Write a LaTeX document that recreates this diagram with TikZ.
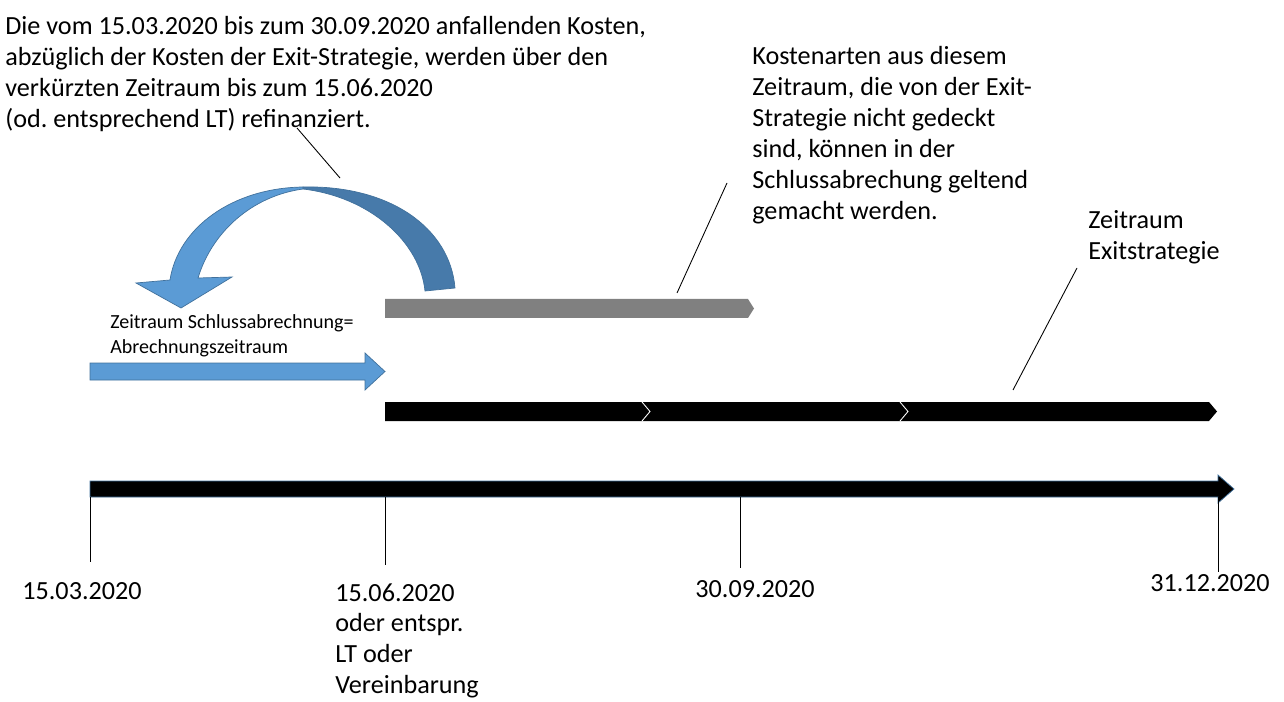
\documentclass[tikz,border=0pt]{standalone}
\usepackage{fontspec}
\setmainfont{Carlito}
\usetikzlibrary{positioning}
\definecolor{pfeilblau}{RGB}{91,155,213}
\definecolor{pfeilrand}{RGB}{65,113,156}
\definecolor{bogendunkel}{RGB}{71,122,170}
\definecolor{balkengrau}{RGB}{128,128,128}

\begin{document}
\begin{tikzpicture}[
  x=0.02cm, y=-0.02cm,
  txt/.style    = {inner sep=0pt, align=left, anchor=north west,
                   font=\fontsize{14.9}{17.6}\selectfont},
  klein/.style  = {inner sep=0pt, align=left, anchor=north west,
                   font=\fontsize{11.4}{14.2}\selectfont},
  hinweis/.style = {black, line width=0.5pt},
  strich/.style = {black, line width=0.5pt}
]
\useasboundingbox (0,0) rectangle (1284,702);

\node[txt] (refin) at (5,16) {Die vom 15.03.2020 bis zum 30.09.2020 anfallenden Kosten,\\
  abzüglich der Kosten der Exit-Strategie, werden über den\\
  verkürzten Zeitraum bis zum 15.06.2020\\
  (od.\ entsprechend LT) refinanziert.};
\node[txt] (kosten) at (752,46) {Kostenarten aus diesem\\ Zeitraum, die von der Exit-\\
  Strategie nicht gedeckt\\ sind, können in der\\ Schlussabrechung geltend\\ gemacht werden.};
\node[txt] (exit) at (1088,210) {Zeitraum\\ Exitstrategie};
\node[klein] (schluss) at (110,314) {Zeitraum Schlussabrechnung=\\ Abrechnungszeitraum};

\node[txt] (d1) at (22,582) {15.03.2020};
\node[txt] (d2) at (335,583) {15.06.2020\\ oder entspr.\\ LT oder\\ Vereinbarung};
\node[txt] (d3) at (695,580) {30.09.2020};
\node[txt] (d4) at (1150,574) {31.12.2020};

% Balken
\draw[fill=black, draw=pfeilrand, line width=0.4pt]
  (90,481) -- (1218,481) -- (1218,475) -- (1234,489) -- (1218,503) -- (1218,497) -- (90,497) -- cycle;
\fill[black] (385,402) -- (1209,402) -- (1217,411.5) -- (1209,421) -- (385,421) -- cycle;
\draw[white, line width=0.5pt] (642,402) -- (650,411.5) -- (642,421);
\draw[white, line width=0.5pt] (900,402) -- (908,411.5) -- (900,421);
\fill[balkengrau] (385,299) -- (748,299) -- (754,308.5) -- (748,318) -- (385,318) -- cycle;
\draw[fill=pfeilblau, draw=pfeilrand, line width=0.4pt]
  (90,363) -- (365,363) -- (365,353) -- (385,371.5) -- (365,390) -- (365,380) -- (90,380) -- cycle;

% Bogenpfeil
\draw[fill=bogendunkel, draw=pfeilrand, line width=0.4pt]
  (303,187) .. controls (390,185) and (450,228) .. (455,288) -- (425,291)
  .. controls (420,242) and (370,197) .. (303,189) -- cycle;
\draw[fill=pfeilblau, draw=pfeilrand, line width=0.4pt]
  (303,187) .. controls (232,188) and (178,228) .. (170,280) -- (136,283) -- (181,308) -- (232,277)
  -- (198,278) .. controls (212,232) and (252,196) .. (303,189) -- cycle;

% Hinweislinien
\coordinate (refin-a) at (297,128);  \coordinate (refin-b) at (340,178);
\coordinate (kosten-a) at (727,183); \coordinate (kosten-b) at (677,293);
\coordinate (exit-a) at (1077,268);  \coordinate (exit-b) at (1013,390);
\draw[hinweis] (refin-a) -- (refin-b);
\draw[hinweis] (kosten-a) -- (kosten-b);
\draw[hinweis] (exit-a) -- (exit-b);

% Markierungen
\coordinate (t1) at (90,497);   \coordinate (t1u) at (90,562);
\coordinate (t2) at (385,497);  \coordinate (t2u) at (385,565);
\coordinate (t3) at (740,497);  \coordinate (t3u) at (740,568);
\coordinate (t4) at (1218,497); \coordinate (t4u) at (1218,572);
\draw[strich] (t1) -- (t1u); \draw[strich] (t2) -- (t2u);
\draw[strich] (t3) -- (t3u); \draw[strich] (t4) -- (t4u);
\end{tikzpicture}
\end{document}
